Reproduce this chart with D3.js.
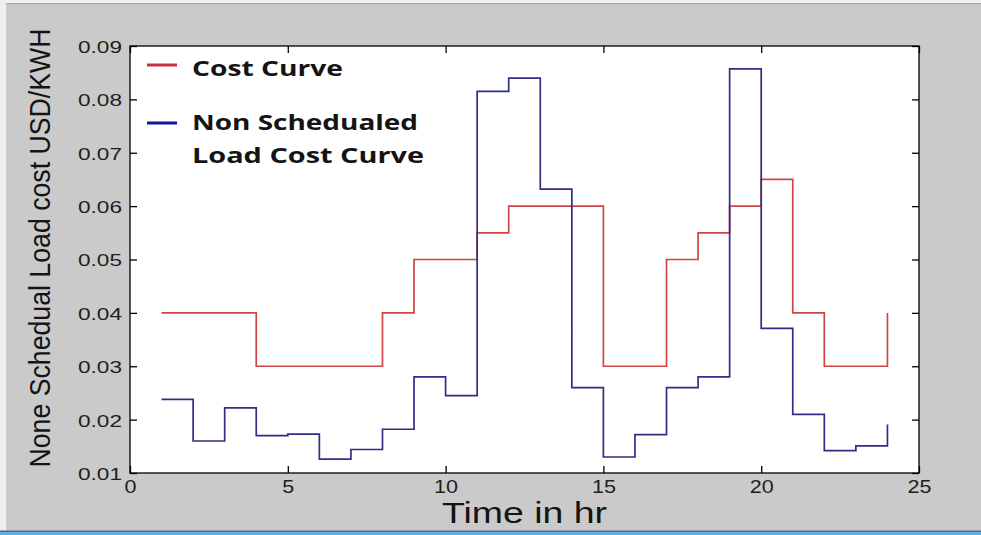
<!DOCTYPE html>
<html>
<head>
<meta charset="utf-8">
<script src="https://cdn.jsdelivr.net/npm/d3@7"></script>
<style>
  html, body { margin: 0; padding: 0; background: #cacaca; }
  svg { display: block; }
</style>
</head>
<body>
<svg id="chart" width="981" height="535"></svg>
<script>
// ---- data ----
const hours = [1,2,3,4,5,6,7,8,9,10,11,12,13,14,15,16,17,18,19,20,21,22,23,24];
const costCurve = [0.04,0.04,0.04,0.03,0.03,0.03,0.03,0.04,0.05,0.05,0.055,0.06,
                   0.06,0.06,0.03,0.03,0.05,0.055,0.06,0.065,0.04,0.03,0.03,0.04];
const nonScheduledCost = [0.0238,0.0160,0.0222,0.0170,0.0173,0.0126,0.0144,0.0182,0.0280,0.0245,
                          0.0815,0.0840,0.0632,0.0260,0.0130,0.0172,0.0260,0.0280,0.0857,0.0371,
                          0.0210,0.0142,0.0151,0.0191];
const xTicks = [0,5,10,15,20,25];
const yTicks = [0.01,0.02,0.03,0.04,0.05,0.06,0.07,0.08,0.09];
const legendLabels = ["Cost Curve", "Non Schedualed", "Load Cost Curve"];
const xTitle = "Time in hr";
const yTitle = "None Schedual Load cost USD/KWH";

// ---- layout ----
const W = 981, H = 535;
const L = 130, R = 919, T = 46, B = 473;
const svg = d3.select("#chart");

// window frame bits
svg.append("rect").attr("x",0).attr("y",0).attr("width",W).attr("height",H).attr("fill","#cacaca");
svg.append("rect").attr("x",0).attr("y",0).attr("width",W).attr("height",3).attr("fill","#f2f2f2");
svg.append("rect").attr("x",0).attr("y",3).attr("width",W).attr("height",1.2).attr("fill","#a9a9a9");
svg.append("rect").attr("x",0).attr("y",0).attr("width",6).attr("height",H).attr("fill","#eeeeee");
svg.append("rect").attr("x",0).attr("y",530.5).attr("width",W).attr("height",1.5).attr("fill","#5a6a7a");
svg.append("rect").attr("x",0).attr("y",532).attr("width",W).attr("height",3).attr("fill","#5fb0e0");

const x = d3.scaleLinear().domain([0,25]).range([L,R]);
const y = d3.scaleLinear().domain([0.01,0.09]).range([B,T]);

// plot background
svg.append("rect").attr("x",L).attr("y",T).attr("width",R-L).attr("height",B-T).attr("fill","#ffffff");

// axes (inward ticks)
const tk = 7;
const fontFam = "'Liberation Sans', Arial, Helvetica, sans-serif";

const gB = svg.append("g").attr("transform",`translate(0,${B})`)
  .call(d3.axisBottom(x).tickValues(xTicks).tickSize(-tk).tickPadding(7).tickFormat(d3.format("d")));
gB.selectAll("text").attr("font-size",18).attr("font-family",fontFam).attr("fill","#1e1e1e")
  .attr("textLength", d => String(d).length*12).attr("lengthAdjust","spacingAndGlyphs");

const gT = svg.append("g").attr("transform",`translate(0,${T})`)
  .call(d3.axisTop(x).tickValues(xTicks).tickSize(-tk).tickFormat(""));

const gL = svg.append("g").attr("transform",`translate(${L},0)`)
  .call(d3.axisLeft(y).tickValues(yTicks).tickSize(-tk).tickPadding(8).tickFormat(d3.format(".2f")));
gL.selectAll("text").attr("font-size",17).attr("font-family",fontFam).attr("fill","#1e1e1e")
  .attr("textLength",44).attr("lengthAdjust","spacingAndGlyphs").attr("dy","0.38em");

const gR = svg.append("g").attr("transform",`translate(${R},0)`)
  .call(d3.axisRight(y).tickValues(yTicks).tickSize(-tk).tickFormat(""));

[gB,gT,gL,gR].forEach(g => {
  g.select(".domain").remove();
  g.selectAll(".tick line").attr("stroke","#000").attr("stroke-width",1.3);
});

// series (stairs)
const stairs = d3.line().x(d => x(d[0])).y(d => y(d[1])).curve(d3.curveStepAfter);
svg.append("path").datum(hours.map((h,i)=>[h,costCurve[i]]))
  .attr("d",stairs).attr("fill","none").attr("stroke","#d04545").attr("stroke-width",1.7);
svg.append("path").datum(hours.map((h,i)=>[h,nonScheduledCost[i]]))
  .attr("d",stairs).attr("fill","none").attr("stroke","#2e2e86").attr("stroke-width",1.7);

// plot border
svg.append("rect").attr("x",L).attr("y",T).attr("width",R-L).attr("height",B-T)
  .attr("fill","none").attr("stroke","#000").attr("stroke-width",1.3);

// legend
const legFont = "'Open Sans', 'Noto Sans', sans-serif";
svg.append("line").attr("x1",147).attr("x2",177).attr("y1",65).attr("y2",65)
  .attr("stroke","#c8303e").attr("stroke-width",3);
svg.append("line").attr("x1",147).attr("x2",177).attr("y1",123).attr("y2",123)
  .attr("stroke","#1414a0").attr("stroke-width",3);
const legText = [
  {t: legendLabels[0], y: 76, w: 151},
  {t: legendLabels[1], y: 130, w: 226},
  {t: legendLabels[2], y: 163, w: 232}
];
svg.selectAll("text.leg").data(legText).enter().append("text").attr("class","leg")
  .attr("x",192).attr("y",d=>d.y).text(d=>d.t)
  .attr("font-family",legFont).attr("font-weight",700).attr("font-size",22).attr("fill","#141414")
  .attr("textLength",d=>d.w).attr("lengthAdjust","spacingAndGlyphs");

// axis titles
svg.append("text").attr("x",(L+R)/2).attr("y",523).attr("text-anchor","middle")
  .attr("font-family",fontFam).attr("font-size",29).attr("fill","#141414")
  .attr("textLength",165).attr("lengthAdjust","spacingAndGlyphs").text(xTitle);
svg.append("text").attr("transform","translate(50,248) rotate(-90)").attr("text-anchor","middle")
  .attr("font-family",fontFam).attr("font-size",29).attr("fill","#141414")
  .attr("textLength",439).attr("lengthAdjust","spacingAndGlyphs").text(yTitle);
</script>
</body>
</html>
